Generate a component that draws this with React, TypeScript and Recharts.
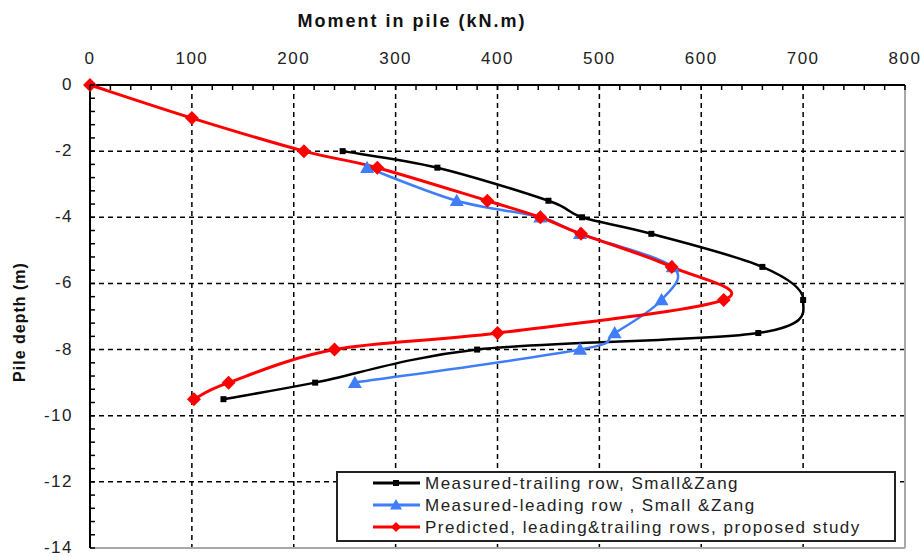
import React from 'react';
import { LineChart, Line, XAxis, YAxis, CartesianGrid, ReferenceLine } from 'recharts';

// axis ticks
const xMajorTicks = [0, 100, 200, 300, 400, 500, 600, 700, 800];
const yMajorTicks = [0, -2, -4, -6, -8, -10, -12, -14];
const xGridValues = [100, 200, 300, 400, 500, 600, 700];
const yGridValues = [-2, -4, -6, -8, -10, -12];

// Measured - trailing row (Small & Zang)
const trailingDepth = [-2, -2.5, -3.5, -4, -4.5, -5.5, -6.5, -7.5, -8, -9, -9.5];
const trailingMoment = [248, 341, 450, 483, 551, 660, 700, 656, 380, 221, 131];

// Measured - leading row (Small & Zang)
const leadingDepth = [-2.5, -3.5, -4, -4.5, -5.5, -6.5, -7.5, -8, -9];
const leadingMoment = [272, 360, 442, 481, 572, 561, 515, 481, 260];

// Predicted, proposed study
const predictedDepth = [0, -1, -2, -2.5, -3.5, -4, -4.5, -5.5, -6.5, -7.5, -8, -9, -9.5];
const predictedMoment = [0, 100, 210, 282, 390, 442, 482, 571, 622, 400, 240, 136, 102];

const legendLabels = [
  'Measured-trailing row, Small&Zang',
  'Measured-leading row , Small &Zang',
  'Predicted, leading&trailing rows, proposed study',
];

const BLACK = '#000000';
const BLUE = '#3f7ef8';
const RED = '#ff0000';
const FONT = '"Liberation Sans", Arial, sans-serif';

const toPoints = (moments: number[], depths: number[]) =>
  moments.map((m, i) => ({ moment: m, depth: depths[i] }));

const trailing = toPoints(trailingMoment, trailingDepth);
const leading = toPoints(leadingMoment, leadingDepth);
const predicted = toPoints(predictedMoment, predictedDepth);

// minor ticks: 5 per major step
const subdivide = (major: number[]) => {
  const out: number[] = [];
  for (let i = 0; i < major.length - 1; i++) {
    const step = (major[i + 1] - major[i]) / 5;
    for (let k = 0; k < 5; k++) out.push(Math.round((major[i] + k * step) * 100) / 100);
  }
  out.push(major[major.length - 1]);
  return out;
};
const xTicks = subdivide(xMajorTicks);
const yTicks = subdivide(yMajorTicks);

// excel-like smoothing (catmull-rom through the points)
const smooth = (context: any) => {
  let pts: number[][] = [];
  return {
    areaStart() {},
    areaEnd() {},
    lineStart() {
      pts = [];
    },
    lineEnd() {
      if (!pts.length) return;
      context.moveTo(pts[0][0], pts[0][1]);
      for (let i = 0; i < pts.length - 1; i++) {
        const p0 = pts[i - 1] || pts[i];
        const p1 = pts[i];
        const p2 = pts[i + 1];
        const p3 = pts[i + 2] || p2;
        context.bezierCurveTo(
          p1[0] + (p2[0] - p0[0]) / 6,
          p1[1] + (p2[1] - p0[1]) / 6,
          p2[0] - (p3[0] - p1[0]) / 6,
          p2[1] - (p3[1] - p1[1]) / 6,
          p2[0],
          p2[1]
        );
      }
    },
    point(x: number, y: number) {
      pts.push([+x, +y]);
    },
  };
};

const Square = ({ cx, cy, s, fill }: any) => (
  <rect x={cx - s / 2} y={cy - s / 2} width={s} height={s} fill={fill} />
);
const Triangle = ({ cx, cy, r, fill }: any) => (
  <path d={`M${cx},${cy - r}L${cx + r},${cy + r * 0.75}L${cx - r},${cy + r * 0.75}Z`} fill={fill} />
);
const Diamond = ({ cx, cy, r, fill }: any) => (
  <path d={`M${cx},${cy - r}L${cx + r},${cy}L${cx},${cy + r}L${cx - r},${cy}Z`} fill={fill} />
);

const XTick = (props: any) => {
  const { x, y, payload } = props;
  const v = payload.value;
  const major = xMajorTicks.includes(v);
  return (
    <g>
      <line x1={x} x2={x} y1={y} y2={y + 5} stroke="#000" strokeWidth={1.5} />
      {major && (
        <text x={x} y={y - 21} textAnchor="middle" fontSize={17} fontFamily={FONT} fill="#222" letterSpacing={1.5}>
          {v}
        </text>
      )}
    </g>
  );
};

const YTick = (props: any) => {
  const { x, y, payload } = props;
  const v = payload.value;
  const major = yMajorTicks.includes(v);
  return (
    <g>
      <line x1={x} x2={x + 5} y1={y} y2={y} stroke="#000" strokeWidth={1.5} />
      {major && (
        <text x={x - 17} y={y + 5} textAnchor="end" fontSize={17} fontFamily={FONT} fill="#222" letterSpacing={1.5}>
          {v}
        </text>
      )}
    </g>
  );
};

const LegendBox = () => {
  const rows = [
    { color: BLACK, marker: (cx: number, cy: number) => <Square cx={cx} cy={cy} s={6} fill={BLACK} /> },
    { color: BLUE, marker: (cx: number, cy: number) => <Triangle cx={cx} cy={cy} r={6} fill={BLUE} /> },
    { color: RED, marker: (cx: number, cy: number) => <Diamond cx={cx} cy={cy} r={5} fill={RED} /> },
  ];
  return (
    <svg width={560} height={72} style={{ position: 'absolute', left: 336, top: 471 }}>
      <rect x={1} y={1} width={558} height={69} fill="#fff" stroke="#222" strokeWidth={2} />
      {rows.map((r, i) => {
        const cy = 12 + i * 22;
        return (
          <g key={i}>
            <line x1={37} x2={84} y1={cy} y2={cy} stroke={r.color} strokeWidth={3} />
            {r.marker(60, cy)}
            <text x={89} y={cy + 6} fontSize={17} fontFamily={FONT} fill="#222" letterSpacing={1.5}>
              {legendLabels[i]}
            </text>
          </g>
        );
      })}
    </svg>
  );
};

export default function App() {
  return (
    <div style={{ position: 'absolute', left: 0, top: 0, width: 922, height: 557, background: '#fff' }}>
      <LineChart width={922} height={557} margin={{ top: 0, right: 17, bottom: 9, left: 0 }}>
        <CartesianGrid
          stroke="#000"
          strokeWidth={1.5}
          strokeDasharray="5 4"
          horizontalValues={yGridValues}
          verticalValues={xGridValues}
        />
        <XAxis
          type="number"
          dataKey="moment"
          orientation="top"
          domain={[0, 800]}
          ticks={xTicks}
          interval={0}
          height={85}
          tickSize={0}
          tickMargin={0}
          tick={<XTick />}
          stroke="#000"
          strokeWidth={2}
        />
        <YAxis
          type="number"
          domain={[-14, 0]}
          ticks={yTicks}
          interval={0}
          width={90}
          tickSize={0}
          tickMargin={0}
          tick={<YTick />}
          stroke="#000"
          strokeWidth={2}
        />
        <ReferenceLine x={800} stroke="#a8a8a8" strokeWidth={2} />
        <ReferenceLine y={-14} stroke="#a8a8a8" strokeWidth={2} />
        <Line
          data={trailing}
          dataKey="depth"
          type={smooth as any}
          stroke={BLACK}
          strokeWidth={2.5}
          dot={(p: any) => <Square key={`t${p.index}`} cx={p.cx} cy={p.cy} s={6} fill={BLACK} />}
          isAnimationActive={false}
        />
        <Line
          data={leading}
          dataKey="depth"
          type={smooth as any}
          stroke={BLUE}
          strokeWidth={2.5}
          dot={(p: any) => <Triangle key={`l${p.index}`} cx={p.cx} cy={p.cy} r={7} fill={BLUE} />}
          isAnimationActive={false}
        />
        <Line
          data={predicted}
          dataKey="depth"
          type={smooth as any}
          stroke={RED}
          strokeWidth={3}
          dot={(p: any) => <Diamond key={`p${p.index}`} cx={p.cx} cy={p.cy} r={7} fill={RED} />}
          isAnimationActive={false}
        />
      </LineChart>
      <svg width={922} height={557} style={{ position: 'absolute', left: 0, top: 0, pointerEvents: 'none' }}>
        <text x={412} y={27} textAnchor="middle" fontSize={18} fontWeight="bold" fontFamily={FONT} fill="#111" letterSpacing={2}>
          Moment in pile (kN.m)
        </text>
        <text
          transform="translate(25,322) rotate(-90)"
          textAnchor="middle"
          fontSize={16}
          fontWeight="bold"
          fontFamily={FONT}
          fill="#111"
          letterSpacing={1}
        >
          Pile depth (m)
        </text>
      </svg>
      <LegendBox />
    </div>
  );
}
